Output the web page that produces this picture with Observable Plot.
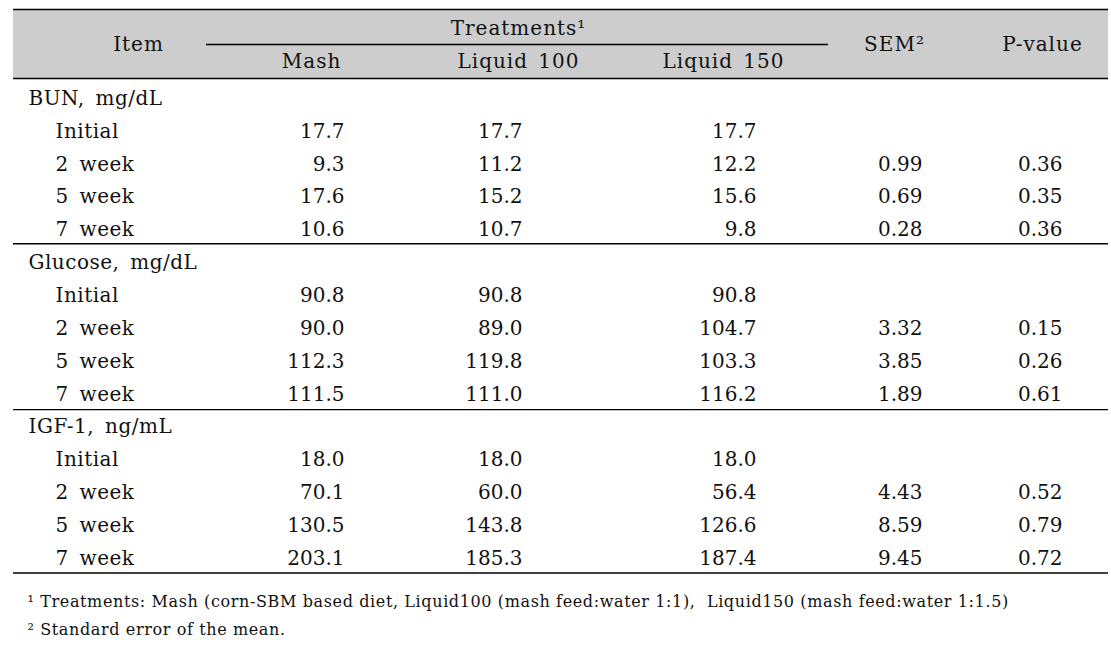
<!DOCTYPE html>
<html>
<head>
<meta charset="utf-8">
<script src="https://cdn.jsdelivr.net/npm/d3@7"></script>
<script src="https://cdn.jsdelivr.net/npm/@observablehq/plot@0.6"></script>
<style>
  html, body { margin: 0; padding: 0; background: #fff; }
</style>
</head>
<body>
<div id="chart"></div>
<script>
// ---- Data ----
const groups = ["BUN, mg/dL", "Glucose, mg/dL", "IGF-1, ng/mL"];
const periods = ["Initial", "2 week", "5 week", "7 week"];
const treatments = ["Mash", "Liquid 100", "Liquid 150"];
const mash      = [17.7, 9.3, 17.6, 10.6,   90.8, 90.0, 112.3, 111.5,   18.0, 70.1, 130.5, 203.1];
const liquid100 = [17.7, 11.2, 15.2, 10.7,  90.8, 89.0, 119.8, 111.0,   18.0, 60.0, 143.8, 185.3];
const liquid150 = [17.7, 12.2, 15.6, 9.8,   90.8, 104.7, 103.3, 116.2,  18.0, 56.4, 126.6, 187.4];
const sem       = [null, 0.99, 0.69, 0.28,  null, 3.32, 3.85, 1.89,     null, 4.43, 8.59, 9.45];
const pvalue    = [null, 0.36, 0.35, 0.36,  null, 0.15, 0.26, 0.61,     null, 0.52, 0.79, 0.72];
const headerTexts = {item: "Item", treat: "Treatments\u00B9", sem: "SEM\u00B2", p: "P-value"};
const footnotes = [
  "\u00B9 Treatments: Mash (corn-SBM based diet, Liquid100 (mash feed:water 1:1),  Liquid150 (mash feed:water 1:1.5)",
  "\u00B2 Standard error of the mean."
];

// ---- Layout (table geometry, in x pixels and y row units) ----
const W = 1111, H = 664;
const colX = {left: 13, right: 1108, group: 28, sub: 55, mash: 344, l100: 522, l150: 756, sem: 922, p: 1062,
              hItem: 138, hMash: 311, hL100: 518, hL150: 723, hTreat: 518, hSem: 894, hP: 1042,
              treatLine1: 206, treatLine2: 828, foot: 27};
const rowY = {hTreat: -2.13, hSub: -1.12, hMid: -1.63, top: -2.71, underline: -1.645, headBottom: -0.61,
              foot1: 15.33, foot2: 16.18};
const fontFamily = "DejaVu Serif";
const fs = 20;

// ---- Build cells ----
const cells = [];
const fmt1 = v => v == null ? "" : v.toFixed(1);
const fmt2 = v => v == null ? "" : v.toFixed(2);
groups.forEach((g, gi) => {
  const base = gi * 5;
  cells.push({x: colX.group, r: base, text: g, anchor: "start"});
  periods.forEach((p, pi) => {
    const k = gi * 4 + pi, r = base + 1 + pi;
    cells.push({x: colX.sub, r, text: p, anchor: "start"});
    cells.push({x: colX.mash, r, text: fmt1(mash[k]), anchor: "end"});
    cells.push({x: colX.l100, r, text: fmt1(liquid100[k]), anchor: "end"});
    cells.push({x: colX.l150, r, text: fmt1(liquid150[k]), anchor: "end"});
    cells.push({x: colX.sem, r, text: fmt2(sem[k]), anchor: "end"});
    cells.push({x: colX.p, r, text: fmt2(pvalue[k]), anchor: "end"});
  });
});

const headers = [
  {x: colX.hItem, r: rowY.hMid, text: headerTexts.item},
  {x: colX.hTreat, r: rowY.hTreat, text: headerTexts.treat},
  {x: colX.hMash, r: rowY.hSub, text: treatments[0]},
  {x: colX.hL100, r: rowY.hSub, text: treatments[1]},
  {x: colX.hL150, r: rowY.hSub, text: treatments[2]},
  {x: colX.hSem, r: rowY.hMid, text: headerTexts.sem},
  {x: colX.hP, r: rowY.hMid, text: headerTexts.p}
];

const lines = [
  {r: rowY.top, x1: colX.left, x2: colX.right, w: 1.6},
  {r: rowY.underline, x1: colX.treatLine1, x2: colX.treatLine2, w: 1.4},
  {r: rowY.headBottom, x1: colX.left, x2: colX.right, w: 1.5},
  {r: 4.42, x1: colX.left, x2: colX.right, w: 1.3},
  {r: 9.47, x1: colX.left, x2: colX.right, w: 1.3},
  {r: 14.44, x1: colX.left, x2: colX.right, w: 1.5}
];

const band = [{x1: colX.left, x2: colX.right, r1: rowY.top, r2: rowY.headBottom}];
const foots = footnotes.map((t, i) => ({x: colX.foot, r: i === 0 ? rowY.foot1 : rowY.foot2, text: t}));

const chart = Plot.plot({
  width: W, height: H,
  margin: 0,
  style: {fontFamily, background: "#fff"},
  x: {domain: [0, W], axis: null},
  y: {domain: [-2.983, 17.226], range: [0, H], axis: null},
  marks: [
    Plot.rectY(band, {x1: "x1", x2: "x2", y1: "r1", y2: "r2", fill: "#cdcdcd"}),
    Plot.ruleY(lines, {y: "r", x1: "x1", x2: "x2", strokeWidth: "w", stroke: "#000"}),
    Plot.text(headers, {x: "x", y: "r", text: "text", fontSize: fs, fill: "#111", textAnchor: "middle"}),
    Plot.text(cells.filter(d => d.anchor === "start"), {x: "x", y: "r", text: "text", fontSize: fs, fill: "#111", textAnchor: "start"}),
    Plot.text(cells.filter(d => d.anchor === "end"), {x: "x", y: "r", text: "text", fontSize: fs, fill: "#111", textAnchor: "end"}),
    Plot.text(foots, {x: "x", y: "r", text: "text", fontSize: 16, fill: "#111", textAnchor: "start"})
  ]
});
// text groups in mark order: headers, labels, values, footnotes
const textGroups = chart.querySelectorAll("g[aria-label='text']");
const spacing = [
  {letter: "1px", word: "3px"},
  {letter: "0.5px", word: "4px"},
  null,
  {letter: "0.62px", word: "0px"}
];
textGroups.forEach((g, i) => {
  const s = spacing[i];
  if (!s) return;
  g.style.letterSpacing = s.letter;
  g.style.wordSpacing = s.word;
});
document.getElementById("chart").append(chart);
</script>
</body>
</html>
